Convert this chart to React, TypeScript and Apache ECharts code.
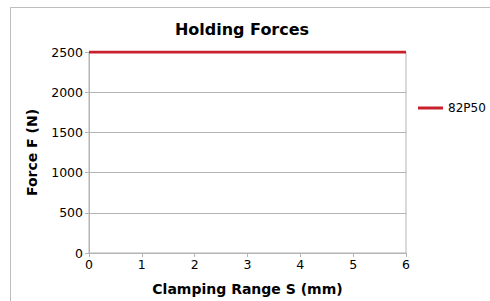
import React, { useEffect, useRef } from "react";
import * as echarts from "echarts";

const clampingRange = [0, 6];
const holdingForce = [2500, 2500];
const seriesName = "82P50";
const titleText = "Holding Forces";
const xName = "Clamping Range S (mm)";
const yName = "Force F (N)";

export default function App() {
  const ref = useRef<HTMLDivElement>(null);
  useEffect(() => {
    if (!ref.current) return;
    const chart = echarts.init(ref.current, null, { renderer: "svg" });
    const font = "'DejaVu Sans', sans-serif";
    chart.setOption({
      animation: false,
      backgroundColor: "#ffffff",
      textStyle: { fontFamily: font },
      title: {
        text: titleText,
        left: 237,
        top: 16,
        textAlign: "center",
        textStyle: { fontFamily: font, fontSize: 16, fontWeight: "bold", color: "#000" },
      },
      graphic: [
        {
          type: "rect",
          shape: { x: 10.5, y: 7.5, width: 600, height: 400 },
          style: { fill: "none", stroke: "#bdbdbd", lineWidth: 1 },
          silent: true,
        },
      ],
      legend: {
        orient: "vertical",
        left: 413,
        top: 97,
        itemWidth: 25,
        itemHeight: 3,
        itemGap: 6,
        textStyle: { fontFamily: font, fontSize: 12, color: "#000" },
        data: [{ name: seriesName, icon: "rect", itemStyle: { color: "#c8202c" } }],
      },
      grid: {
        left: 89,
        right: 84,
        top: 52,
        bottom: 47,
        show: true,
        borderColor: "#b4b4b4",
        borderWidth: 1,
      },
      xAxis: {
        type: "value",
        min: 0,
        max: 6,
        interval: 1,
        name: xName,
        nameLocation: "middle",
        nameGap: 29,
        nameTextStyle: { fontFamily: font, fontSize: 14, fontWeight: "bold", color: "#000" },
        axisLine: { show: true, lineStyle: { color: "#b4b4b4" } },
        axisTick: { show: true, length: 4, lineStyle: { color: "#b4b4b4" } },
        axisLabel: { fontFamily: font, fontSize: 12.5, color: "#000", margin: 5 },
        splitLine: { show: false },
      },
      yAxis: {
        type: "value",
        min: 0,
        max: 2500,
        interval: 500,
        name: yName,
        nameLocation: "middle",
        nameGap: 50,
        nameTextStyle: { fontFamily: font, fontSize: 14, fontWeight: "bold", color: "#000" },
        axisLine: { show: true, lineStyle: { color: "#b4b4b4" } },
        axisTick: { show: true, length: 4, lineStyle: { color: "#b4b4b4" } },
        axisLabel: {
          fontFamily: font,
          fontSize: 12.5,
          color: "#000",
          margin: 6,
          formatter: (v: number) => String(v),
        },
        splitLine: { show: true, lineStyle: { color: "#b4b4b4", width: 1 } },
      },
      series: [
        {
          name: seriesName,
          type: "line",
          data: clampingRange.map((x, i) => [x, holdingForce[i]]),
          symbol: "none",
          lineStyle: { color: "#c8202c", width: 3 },
          itemStyle: { color: "#c8202c" },
        },
      ],
    });
    return () => chart.dispose();
  }, []);
  return (
    <div
      ref={ref}
      style={{ position: "fixed", left: 0, top: 0, width: 490, height: 301 }}
    />
  );
}
